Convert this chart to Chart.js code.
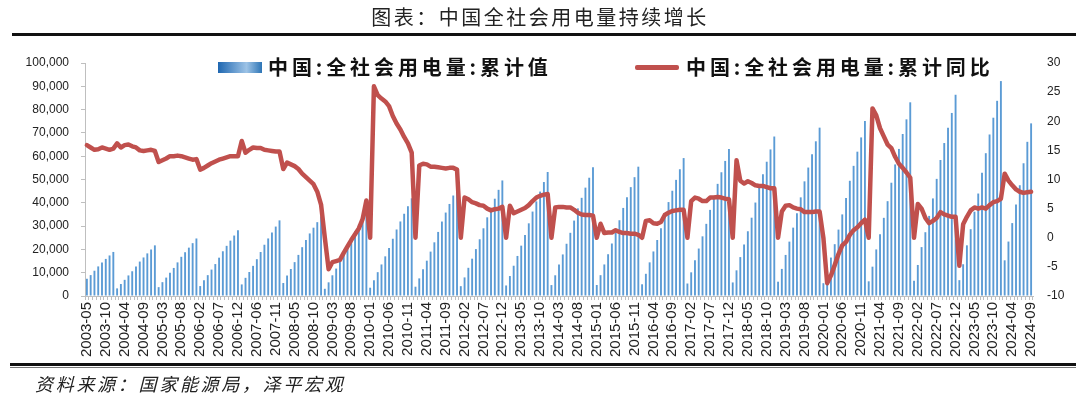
<!DOCTYPE html>
<html>
<head>
<meta charset="utf-8">
<script src="https://cdn.jsdelivr.net/npm/chart.js@4.4.1/dist/chart.umd.min.js"></script>
<style>
  body { margin: 0; background: #fff; }
  #wrap { position: relative; width: 1080px; height: 399px; overflow: hidden; }
  #wrap canvas { position: absolute; left: 0; top: 0; }
  .title { position: absolute; left: 0; top: 4px; width: 1080px; text-align: center;
           font: 20px 'Noto Sans CJK SC'; letter-spacing: 2.5px; color: #222; line-height: 26px; }
  .rule-top { position: absolute; left: 12px; top: 33px; width: 1064px; height: 3px; background: #111; }
  .rule-bot { position: absolute; left: 10px; top: 363px; width: 1066px; height: 3px; background: #111; }
  .rule-bot2 { position: absolute; left: 10px; top: 367px; width: 1066px; height: 1px; background: #777; }
  .source { position: absolute; left: 35px; top: 370px; font: italic 18px 'Noto Sans CJK SC';
            letter-spacing: 2.7px; color: #222; line-height: 26px; }
  .leg { position: absolute; font: bold 20px 'Noto Sans CJK SC'; letter-spacing: 3.9px; color: #111;
         line-height: 24px; top: 55px; white-space: nowrap; }
  .sw1 { position: absolute; left: 218px; top: 62px; width: 44px; height: 11px;
         background: linear-gradient(to right, #1f67b1, #9dc3e6 65%, #2e75b6); }
  .sw2 { position: absolute; left: 635px; top: 65px; width: 44px; height: 5px; border-radius: 2px; background: #c0504d; }
</style>
</head>
<body>
<div id="wrap">
  <canvas id="dianliang" width="1080" height="399"></canvas>
  <div class="title">图表：中国全社会用电量持续增长</div>
  <div class="rule-top"></div>
  <div class="sw1"></div><div class="leg" id="leg1" style="left:268px"></div>
  <div class="sw2"></div><div class="leg" id="leg2" style="left:686px"></div>
  <div class="rule-bot"></div><div class="rule-bot2"></div>
  <div class="source">资料来源：国家能源局，泽平宏观</div>
</div>
<script>
const seriesNames = ['中国:全社会用电量:累计值', '中国:全社会用电量:累计同比'];

// months (Jan missing 2004-2008 and 2024)
const labels = [
  '2003-05','2003-06','2003-07','2003-08','2003-09','2003-10','2003-11','2003-12',
  '2004-02','2004-03','2004-04','2004-05','2004-06','2004-07','2004-08','2004-09','2004-10','2004-11','2004-12',
  '2005-02','2005-03','2005-04','2005-05','2005-06','2005-07','2005-08','2005-09','2005-10','2005-11','2005-12',
  '2006-02','2006-03','2006-04','2006-05','2006-06','2006-07','2006-08','2006-09','2006-10','2006-11','2006-12',
  '2007-02','2007-03','2007-04','2007-05','2007-06','2007-07','2007-08','2007-09','2007-10','2007-11','2007-12',
  '2008-02','2008-03','2008-04','2008-05','2008-06','2008-07','2008-08','2008-09','2008-10','2008-11','2008-12',
  '2009-01','2009-02','2009-03','2009-04','2009-05','2009-06','2009-07','2009-08','2009-09','2009-10','2009-11','2009-12',
  '2010-01','2010-02','2010-03','2010-04','2010-05','2010-06','2010-07','2010-08','2010-09','2010-10','2010-11','2010-12',
  '2011-01','2011-02','2011-03','2011-04','2011-05','2011-06','2011-07','2011-08','2011-09','2011-10','2011-11','2011-12',
  '2012-01','2012-02','2012-03','2012-04','2012-05','2012-06','2012-07','2012-08','2012-09','2012-10','2012-11','2012-12',
  '2013-01','2013-02','2013-03','2013-04','2013-05','2013-06','2013-07','2013-08','2013-09','2013-10','2013-11','2013-12',
  '2014-01','2014-02','2014-03','2014-04','2014-05','2014-06','2014-07','2014-08','2014-09','2014-10','2014-11','2014-12',
  '2015-01','2015-02','2015-03','2015-04','2015-05','2015-06','2015-07','2015-08','2015-09','2015-10','2015-11','2015-12',
  '2016-01','2016-02','2016-03','2016-04','2016-05','2016-06','2016-07','2016-08','2016-09','2016-10','2016-11','2016-12',
  '2017-01','2017-02','2017-03','2017-04','2017-05','2017-06','2017-07','2017-08','2017-09','2017-10','2017-11','2017-12',
  '2018-01','2018-02','2018-03','2018-04','2018-05','2018-06','2018-07','2018-08','2018-09','2018-10','2018-11','2018-12',
  '2019-01','2019-02','2019-03','2019-04','2019-05','2019-06','2019-07','2019-08','2019-09','2019-10','2019-11','2019-12',
  '2020-01','2020-02','2020-03','2020-04','2020-05','2020-06','2020-07','2020-08','2020-09','2020-10','2020-11','2020-12',
  '2021-01','2021-02','2021-03','2021-04','2021-05','2021-06','2021-07','2021-08','2021-09','2021-10','2021-11','2021-12',
  '2022-01','2022-02','2022-03','2022-04','2022-05','2022-06','2022-07','2022-08','2022-09','2022-10','2022-11','2022-12',
  '2023-01','2023-02','2023-03','2023-04','2023-05','2023-06','2023-07','2023-08','2023-09','2023-10','2023-11','2023-12',
  '2024-02','2024-03','2024-04','2024-05','2024-06','2024-07','2024-08','2024-09'
];

// 累计值, 亿千瓦时
const cumValue = [
  7400, 8970, 10850, 12700, 14350, 15920, 17400, 18910,
  3270, 5140, 6940, 8830, 10620, 12710, 14780, 16540, 18290, 19960, 21735,
  3800, 5940, 7900, 9980, 12040, 14430, 16820, 18790, 20760, 22680, 24689,
  4260, 6720, 8950, 11340, 13710, 16450, 19200, 21530, 23760, 25950, 28248,
  4970, 7800, 10290, 12940, 15800, 18880, 22000, 24700, 27280, 29800, 32458,
  5570, 8790, 11600, 14540, 17640, 20950, 24010, 26850, 29320, 31690, 34268,
  3100, 5870, 8890, 11770, 14790, 17890, 21350, 24810, 27800, 30670, 33480, 36430,
  3560, 6750, 10230, 13540, 17020, 20580, 24570, 28550, 31990, 35300, 38530, 41923,
  3990, 7560, 11450, 15160, 19050, 23040, 27500, 31960, 35810, 39510, 43130, 46928,
  4220, 7980, 12100, 16020, 20130, 24350, 29060, 33770, 37840, 41760, 45570, 49591,
  4520, 8570, 12990, 17190, 21610, 26130, 31190, 36240, 40610, 44810, 48910, 53223,
  4690, 8890, 13480, 17840, 22420, 27120, 32370, 37610, 42140, 46510, 50760, 55233,
  4720, 8940, 13540, 17930, 22530, 27250, 32520, 37800, 42350, 46730, 51000, 55500,
  5030, 9530, 14440, 19120, 24030, 29070, 34690, 40310, 45170, 49840, 54400, 59198,
  5360, 10160, 15390, 20370, 25610, 30970, 36960, 42960, 48130, 53110, 57970, 63077,
  5820, 11020, 16700, 22110, 27790, 33610, 40110, 46610, 52230, 57630, 62900, 68449,
  6140, 11630, 17630, 23340, 29340, 35480, 42340, 49210, 55130, 60840, 66400, 72255,
  5500, 10720, 16500, 22240, 28500, 35020, 42050, 49450, 55860, 61940, 68060, 75110,
  6300, 12590, 19990, 26480, 33550, 40700, 48620, 56470, 63120, 69540, 75820, 83128,
  6540, 13320, 20990, 27380, 34380, 41880, 50270, 58380, 65650, 72170, 78560, 86372,
  6800, 13630, 21750, 28670, 36170, 43980, 52900, 61290, 69320, 76520, 83770, 92241,
  15320, 23370, 31290, 39270, 47540, 56970, 66170, 74090
];

// 累计同比, %  (January gaps show as 0)
const cumYoY = [
  15.9, 15.5, 15.1, 15.2, 15.5, 15.3, 15.1, 15.3,
  16.2, 15.5, 15.9, 16.0, 15.7, 15.5, 15.0, 14.9, 15.0, 15.1, 14.9,
  13.0, 13.3, 13.6, 14.0, 14.0, 14.1, 14.0, 13.8, 13.6, 13.4, 13.5,
  11.7, 12.0, 12.4, 12.8, 13.1, 13.4, 13.6, 13.8, 14.0, 14.0, 14.0,
  16.6, 14.6, 15.1, 15.5, 15.4, 15.4, 15.1, 15.0, 14.9, 14.8, 14.8,
  11.8, 12.9, 12.6, 12.3, 11.8, 11.0, 10.4, 9.8, 9.2, 7.9, 5.7,
  0, -5.4, -4.2, -4.0, -3.8, -2.6, -1.5, -0.4, 0.6, 1.6, 3.2, 6.4,
  0, 26.0, 24.5, 23.9, 23.4, 22.6, 20.9, 19.6, 18.6, 17.3, 16.2, 14.6,
  0, 12.4, 12.7, 12.6, 12.2, 12.2, 12.1, 12.0, 11.9, 12.0, 12.0, 11.7,
  0, 6.9, 6.6, 6.1, 5.9, 5.6, 5.5, 5.0, 4.7, 4.9, 5.0, 5.3,
  0, 5.5, 4.2, 4.5, 4.8, 5.1, 5.6, 6.3, 6.9, 7.2, 7.4, 7.5,
  0, 5.2, 5.3, 5.3, 5.2, 5.2, 4.8, 4.3, 4.0, 3.9, 3.9, 3.8,
  0, 2.4, 0.8, 0.9, 0.9, 1.3, 1.0, 0.8, 0.8, 0.7, 0.7, 0.5,
  0, 2.9, 3.0, 2.5, 2.4, 2.7, 3.9, 4.3, 4.6, 4.7, 4.8, 4.8,
  0, 6.3, 6.9, 6.7, 6.3, 6.3, 6.9, 6.9, 7.0, 6.9, 6.7, 6.6,
  0, 13.3, 9.8, 9.3, 9.7, 9.4, 9.0, 8.9, 8.9, 8.7, 8.5, 8.5,
  0, 4.5, 5.5, 5.6, 5.2, 5.0, 4.9, 4.4, 4.4, 4.4, 4.5, 4.5,
  0, -7.8, -6.5, -4.7, -2.8, -1.3, -0.7, 0.5, 1.3, 1.8, 2.5, 3.1,
  0, 22.2, 21.0, 18.8, 17.4, 16.0, 15.4, 13.9, 12.7, 12.0, 11.2, 10.3,
  0, 5.8, 5.0, 3.4, 2.5, 2.9, 3.4, 4.4, 4.0, 3.8, 3.6, 3.6,
  -4.8, 2.3, 3.6, 4.7, 5.2, 5.0, 5.2, 5.0, 5.6, 6.1, 6.3, 6.7,
  11.0, 9.8, 9.0, 8.3, 7.9, 7.7, 7.8, 7.9
];

const labelEvery = 5;

document.getElementById('leg1').textContent = seriesNames[0];
document.getElementById('leg2').textContent = seriesNames[1];

const ctx = document.getElementById('dianliang');

new Chart(ctx, {
  type: 'bar',
  data: {
    labels: labels,
    datasets: [
      {
        type: 'line',
        label: seriesNames[1],
        data: cumYoY,
        yAxisID: 'y1',
        borderColor: '#c0504d',
        borderWidth: 4.5,
        pointRadius: 0,
        tension: 0,
        borderJoinStyle: 'round',
        borderCapStyle: 'round',
        order: 0
      },
      {
        label: seriesNames[0],
        data: cumValue,
        yAxisID: 'y',
        backgroundColor: '#5b9bd5',
        barPercentage: 0.5,
        categoryPercentage: 1,
        order: 1
      }
    ]
  },
  options: {
    responsive: false,
    animation: false,
    devicePixelRatio: 1,
    layout: { padding: { top: 63, left: 0, right: 7, bottom: 23 } },
    plugins: {
      legend: { display: false },
      tooltip: { enabled: false }
    },
    scales: {
      x: {
        afterFit: s => { s.height = 80; },
        border: { display: true, color: '#bfbfbf' },
        grid: { drawOnChartArea: false, tickLength: 4, color: '#bfbfbf' },
        ticks: {
          autoSkip: false,
          minRotation: 90,
          maxRotation: 90,
          padding: 2,
          color: '#222',
          font: { family: 'Liberation Sans', size: 15 },
          callback: function (v, i) { return i % labelEvery === 0 ? this.getLabelForValue(v) : ''; }
        }
      },
      y: {
        position: 'left',
        min: 0,
        max: 100000,
        afterFit: s => { s.width = 85; },
        border: { display: true, color: '#bfbfbf' },
        grid: { drawOnChartArea: false, tickLength: 4, color: '#bfbfbf' },
        ticks: {
          stepSize: 10000,
          padding: 12,
          color: '#222',
          font: { family: 'Liberation Sans', size: 12 },
          callback: v => v.toLocaleString('en-US')
        }
      },
      y1: {
        position: 'right',
        min: -10,
        max: 30,
        afterFit: s => { s.width = 40; },
        border: { display: false },
        grid: { display: false, drawTicks: false },
        ticks: {
          stepSize: 5,
          padding: 14,
          crossAlign: 'near',
          color: '#222',
          font: { family: 'Liberation Sans', size: 12 }
        }
      }
    }
  }
});
</script>
</body>
</html>
